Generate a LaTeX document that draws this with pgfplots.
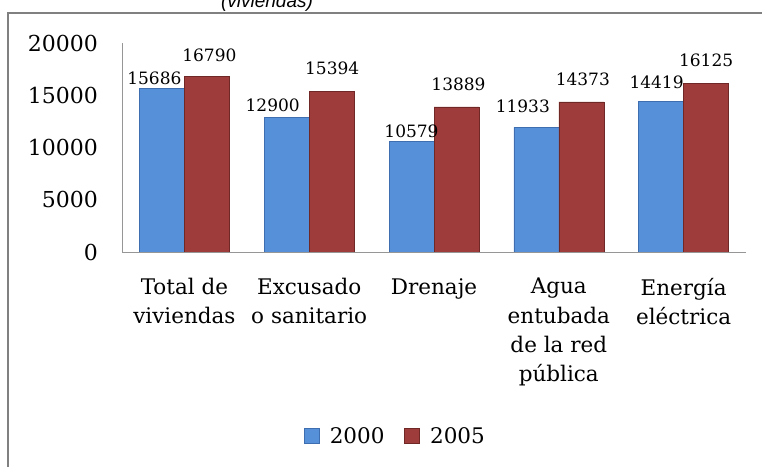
\documentclass[border=0pt]{standalone}
\usepackage{pgfplots}
\pgfplotsset{compat=1.18}
\usepackage{pgfplotstable}
\usepackage{fontspec}
\setmainfont{DejaVu Serif}
\newfontfamily\titlefont{Liberation Sans}

\definecolor{bluebar}{RGB}{86,144,217}
\definecolor{blueedge}{RGB}{62,110,175}
\definecolor{redbar}{RGB}{157,60,58}
\definecolor{rededge}{RGB}{112,40,38}
\definecolor{framegray}{RGB}{128,128,128}
\definecolor{axisgray}{RGB}{150,150,150}

\pgfplotsset{boxlegend/.style={legend image code/.code={\draw[##1] (0bp,-7.5bp) rectangle (15bp,7.5bp);}}}

\pgfplotstableread{
x y dx dy
0 15686 -7.5 3
1 12900 -14 5
2 10579 0 3
3 11933 -13.5 14
4 14419 -4.5 12
}\dataA
\pgfplotstableread{
x y dx dy
0 16790 2.5 15
1 15394 0.5 16
2 13889 2 16
3 14373 1.5 16
4 16125 0 16.5
}\dataB

\begin{document}
\begin{tikzpicture}
\path[use as bounding box] (0bp,0bp) rectangle (762bp,467bp);
\clip (0bp,0bp) rectangle (762bp,467bp);
\draw[framegray, line width=2bp] (7.5bp,-30bp) -- (7.5bp,453.5bp) -- (800bp,453.5bp);
\node[font=\titlefont\itshape\fontsize{19bp}{22bp}\selectfont, anchor=base] at (267bp,459bp) {(viviendas)};
\begin{axis}[
  at={(122bp,215bp)}, anchor=south west,
  scale only axis, width=624bp, height=209bp,
  ybar=0pt, bar width=45bp,
  xmin=-0.5, xmax=4.5, ymin=0, ymax=20000,
  axis x line*=bottom, axis y line*=left,
  axis line style={draw=axisgray, line width=0.8bp, -},
  major tick length=0pt,
  xtick={0,1,2,3,4},
  xticklabels={Total de\\viviendas, Excusado\\o sanitario, Drenaje, Agua\\entubada\\de la red\\pública, Energía\\eléctrica},
  xticklabel style={align=center, anchor=north, inner sep=0pt, yshift=-26bp,
    font=\fontsize{21.5bp}{29.3bp}\selectfont},
  ytick={0,5000,10000,15000,20000},
  scaled y ticks=false,
  /pgf/number format/.cd, 1000 sep={}, assume math mode=true, /pgfplots/.cd,
  yticklabel style={anchor=east, inner sep=0pt, xshift=-24bp,
    font=\fontsize{22bp}{26bp}\selectfont},
  nodes near coords,
  nodes near coords style={anchor=south, inner sep=0pt, xshift=\dx bp, yshift=\dy bp,
    font=\fontsize{17bp}{20bp}\selectfont, text=black},
  legend columns=2,
  legend style={at={(0.4383,-0.880)}, anchor=center, draw=none, fill=none,
    font=\fontsize{21.5bp}{24bp}\selectfont,
    /tikz/every odd column/.append style={column sep=8bp},
    /tikz/every even column/.append style={column sep=18bp}},
]
\addplot[fill=bluebar, draw=blueedge, line width=0.6bp, boxlegend,
  visualization depends on={\thisrow{dx} \as \dx},
  visualization depends on={\thisrow{dy} \as \dy}]
  table[x=x, y=y] {\dataA};
\addplot[fill=redbar, draw=rededge, line width=0.6bp, boxlegend,
  visualization depends on={\thisrow{dx} \as \dx},
  visualization depends on={\thisrow{dy} \as \dy}]
  table[x=x, y=y] {\dataB};
\legend{2000, 2005}
\end{axis}
\end{tikzpicture}
\end{document}
